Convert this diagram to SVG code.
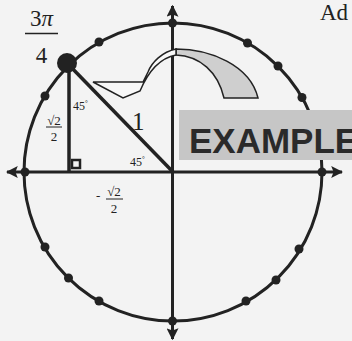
<svg xmlns="http://www.w3.org/2000/svg" width="352" height="341" viewBox="0 0 352 341">
<style>
.ax{stroke:#222;stroke-width:3;fill:none}
.dot{fill:#222}
.tri{stroke:#222;stroke-width:3.5;fill:none}
.serif{font-family:"Liberation Serif","Times New Roman",serif;fill:#222}
.sm{font-size:12px}
</style>
<defs>
<marker id="ah" viewBox="0 0 10 10" refX="9" refY="5" markerWidth="4" markerHeight="4" orient="auto-start-reverse" markerUnits="strokeWidth">
<path d="M0,0 L10,5 L0,10 L2,5 Z" fill="#222"/>
</marker>
</defs>
<rect width="352" height="341" fill="#f3f3f3"/>
<g id="connectors">
<line class="ax" x1="7" y1="172" x2="342" y2="172" marker-start="url(#ah)" marker-end="url(#ah)"/>
<line class="ax" x1="172.5" y1="6" x2="172.5" y2="339" marker-start="url(#ah)" marker-end="url(#ah)"/>
</g>
<g id="circle">
<circle cx="173" cy="172" r="149" fill="none" stroke="#222" stroke-width="3"/>
</g>
<g id="dots">
<circle class="dot" cx="322" cy="172" r="4.5"/>
<circle class="dot" cx="302" cy="97.5" r="4.5"/>
<circle class="dot" cx="278" cy="66" r="4.5"/>
<circle class="dot" cx="247.5" cy="43" r="4.5"/>
<circle class="dot" cx="172.5" cy="23" r="4.5"/>
<circle class="dot" cx="99" cy="42" r="4.5"/>
<circle class="dot" cx="45" cy="96" r="4.5"/>
<circle class="dot" cx="25" cy="172" r="4.5"/>
<circle class="dot" cx="45" cy="247" r="4.5"/>
<circle class="dot" cx="68.5" cy="278" r="4.5"/>
<circle class="dot" cx="99" cy="301" r="4.5"/>
<circle class="dot" cx="172.5" cy="321" r="4.5"/>
<circle class="dot" cx="246" cy="301" r="4.5"/>
<circle class="dot" cx="276" cy="280" r="4.5"/>
<circle class="dot" cx="299" cy="249" r="4.5"/>
</g>
<g id="triangle">
<line class="tri" x1="69" y1="64" x2="69" y2="172"/>
<line class="tri" x1="68" y1="64" x2="173" y2="172"/>
<rect x="72" y="160" width="8" height="8" fill="none" stroke="#222" stroke-width="2.5"/>
<circle class="dot" cx="67" cy="63" r="10"/>
</g>
<g id="arrow">
<path d="M176,49 C210,49 250,65 258,98 L224,98 C218,72 200,56 176,55 Z" fill="#cfcfcf" stroke="#222" stroke-width="1.5"/>
<path d="M176,49 C162,52 152,62 148,72 L143,82 L93,82 L123,98 L140,91 C148,72 160,58 176,55 Z" fill="#f8f8f8" stroke="#222" stroke-width="1.5"/>
</g>
<g id="banner">
<rect x="179" y="110" width="173" height="50" fill="#c6c6c6"/>
<text x="189" y="153" font-family="Liberation Sans, Arial, sans-serif" font-weight="bold" font-size="35" fill="#2a2a2a">EXAMPLE</text>
</g>
<g id="labels">
<text class="serif" x="41.5" y="26" font-size="23" text-anchor="middle">3<tspan font-style="italic">π</tspan></text>
<line x1="25" y1="33.5" x2="58" y2="33.5" stroke="#222" stroke-width="1.5"/>
<text class="serif" x="41.5" y="63" font-size="23" text-anchor="middle">4</text>
<text class="serif sm" x="73" y="110">45<tspan font-size="7" dy="-5">°</tspan></text>
<text class="serif" x="132" y="130" font-size="25">1</text>
<text class="serif sm" x="130" y="166">45<tspan font-size="7" dy="-5">°</tspan></text>
<text class="serif" x="54" y="125" font-size="13" text-anchor="middle">√2</text>
<line x1="46" y1="127" x2="62" y2="127" stroke="#222" stroke-width="1"/>
<text class="serif" x="54" y="141" font-size="13" text-anchor="middle">2</text>
<text class="serif" x="96" y="200" font-size="13">-</text>
<text class="serif" x="114" y="196" font-size="13" text-anchor="middle">√2</text>
<line x1="106" y1="199" x2="123" y2="199" stroke="#222" stroke-width="1"/>
<text class="serif" x="114" y="213" font-size="13" text-anchor="middle">2</text>
<text class="serif" x="320" y="20" font-size="23">Ad</text>
</g>
</svg>
